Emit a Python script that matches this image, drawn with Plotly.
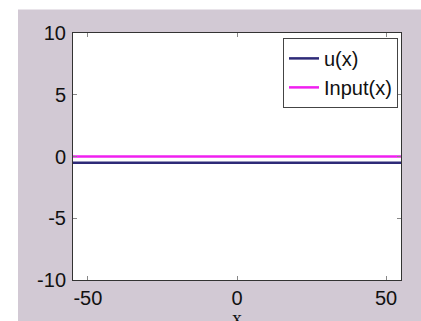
import plotly.graph_objects as go

x_vals = [-55, 55]
u_vals = [-0.5, -0.5]
input_vals = [0, 0]
x_ticks = [-50, 0, 50]
x_tick_text = ["-50", "0", "50"]
y_ticks = [-10, -5, 0, 5, 10]
y_tick_text = ["-10", "-5", "0", "5", "10"]

W, H = 421, 321
ml, mr, mt, mb = 73, 20, 33, 35
pw, ph = W - ml - mr, H - mt - mb

bg = "#D2C9D4"
font = dict(family="Liberation Sans, Arial", size=20, color="#111111")

fig = go.Figure()
fig.add_trace(go.Scatter(x=x_vals, y=u_vals, mode="lines", name="u(x)",
                         line=dict(color="#2E2A78", width=2.5)))
fig.add_trace(go.Scatter(x=x_vals, y=input_vals, mode="lines", name="Input(x)",
                         line=dict(color="#F020F0", width=2.5)))

axis_common = dict(showgrid=False, zeroline=False, showline=True, linecolor="#333333",
                   linewidth=1, mirror="ticks", ticks="inside", ticklen=4,
                   tickcolor="#888888", tickfont=font)
fig.update_xaxes(range=[-55, 55], tickvals=x_ticks, ticktext=x_tick_text, **axis_common)
fig.update_yaxes(range=[-10, 10], tickvals=y_ticks, ticktext=y_tick_text,
                 ticklabelstandoff=2, **axis_common)

# white strips at left and top (outside the grey figure area)
fig.add_shape(type="rect", xref="paper", yref="paper",
              x0=-0.5, x1=(18 - ml) / pw, y0=-0.5, y1=1.5,
              fillcolor="white", line=dict(width=0), layer="below")
fig.add_shape(type="rect", xref="paper", yref="paper",
              x0=-0.5, x1=1.5, y0=1 + (mt - 9) / ph, y1=1.5,
              fillcolor="white", line=dict(width=0), layer="below")

fig.add_annotation(text="x", xref="paper", yref="paper", x=(237 - ml) / pw,
                   y=-(312 - mt - ph) / ph, yanchor="top", showarrow=False,
                   font=dict(family="Liberation Serif, Times New Roman", size=20, color="#111111"))

fig.update_layout(
    width=W, height=H, margin=dict(l=ml, r=mr, t=mt, b=mb),
    paper_bgcolor=bg, plot_bgcolor="white",
    showlegend=True,
    legend=dict(x=(398 - ml) / pw, xanchor="right", y=1 - (38 - mt) / ph, yanchor="top",
                bgcolor="white", bordercolor="#444444", borderwidth=1,
                font=font, tracegroupgap=0, itemwidth=30),
)

fig.write_html("out.html")
